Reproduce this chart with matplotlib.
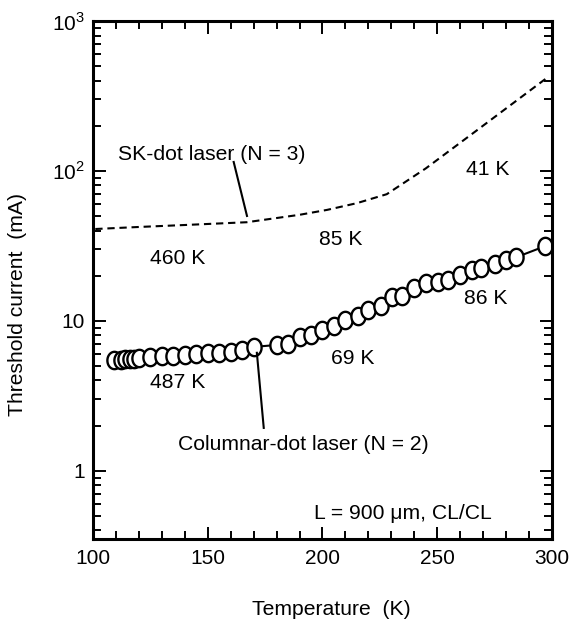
import numpy as np
import matplotlib
matplotlib.use("Agg")
import matplotlib.pyplot as plt
from matplotlib.path import Path
from matplotlib.ticker import FixedLocator, FixedFormatter, MultipleLocator, LogLocator, NullFormatter

plt.rcParams["font.family"] = ["Liberation Sans", "DejaVu Sans"]
plt.rcParams["mathtext.fontset"] = "custom"
plt.rcParams["mathtext.rm"] = "Liberation Sans"

# columnar-dot laser (N = 2), measured points
col_temp = [109, 112, 114, 116, 118, 120, 125, 130, 135, 140, 145, 150, 155, 160, 165, 170,
            180, 185, 190, 195, 200, 205, 210, 215.5, 220, 225.5, 230.5, 234.5, 240, 245,
            250.5, 254.5, 260, 265, 269, 275, 280, 284.5, 297]
col_ith = [5.50, 5.52, 5.54, 5.57, 5.6, 5.65, 5.72, 5.8, 5.87, 5.93, 6.0, 6.06, 6.12, 6.2, 6.38, 6.7,
           6.9, 7.05, 7.8, 8.1, 8.65, 9.2, 10.15, 10.8, 11.8, 12.6, 14.4, 14.7, 16.5, 17.8,
           18.3, 18.8, 20.3, 21.9, 22.5, 24.0, 25.5, 26.6, 31.5]

# SK-dot laser (N = 3), dashed curve
sk_temp = [101, 120, 140, 167, 190, 202, 215, 228, 245, 266.5, 297.5]
sk_ith = [41, 42.3, 43.6, 45.5, 51, 55, 61, 70, 104, 183, 415]

# T0 labels
t0_text = ["460 K", "85 K", "41 K", "487 K", "69 K", "86 K"]
t0_x = [137, 208, 272, 137, 213, 271]
t0_y = [26.2, 34.7, 101.6, 3.85, 5.64, 14.2]

ytick_vals = [1, 10, 100, 1000]
ytick_labels = ["1", "10", r"10$^{\mathregular{2}}$", r"10$^{\mathregular{3}}$"]

fig = plt.figure(figsize=(5.72, 6.21), dpi=100)
ax = fig.add_axes([0.1626, 0.132, 0.8024, 0.834])

# elliptical open marker
th = np.linspace(0, 2 * np.pi, 61)
ell = Path(np.column_stack([0.82 * np.cos(th), np.sin(th)]))

ax.plot(sk_temp, sk_ith, color="black", lw=1.5, linestyle=(0, (3.5, 2.3)))
ax.plot(col_temp, col_ith, color="black", lw=1.5, marker=ell, markersize=12.5,
        markerfacecolor="white", markeredgecolor="black", markeredgewidth=1.7)

ax.set_yscale("log")
ax.set_xlim(100, 300)
ax.set_ylim(0.35, 1000)

ax.xaxis.set_major_locator(MultipleLocator(50))
ax.xaxis.set_minor_locator(MultipleLocator(10))
ax.yaxis.set_major_locator(FixedLocator(ytick_vals))
ax.yaxis.set_major_formatter(FixedFormatter(ytick_labels))
ax.yaxis.set_minor_locator(LogLocator(base=10, subs=np.arange(2, 10)))
ax.yaxis.set_minor_formatter(NullFormatter())

for s in ax.spines.values():
    s.set_linewidth(2.2)
ax.tick_params(which="both", direction="in", top=True, right=True, width=1.4, labelsize=15)
ax.tick_params(which="major", length=9)
ax.tick_params(which="minor", length=5.5)
ax.tick_params(axis="x", pad=7)
ax.tick_params(axis="y", pad=6)

# leader lines
ax.plot([161.3, 167.1], [114.8, 50.1], color="black", lw=1.5)
ax.plot([171.4, 174.4], [6.12, 1.93], color="black", lw=1.5)

fs = 15.2
ax.text(110.8, 129.7, "SK-dot laser (N = 3)", fontsize=fs, va="center", ha="left")
ax.text(191.8, 1.49, "Columnar-dot laser (N = 2)", fontsize=fs, va="center", ha="center")
ax.text(273.6, 0.522, "L = 900 \u03bcm, CL/CL", fontsize=fs, va="center", ha="right")
for t, x, y in zip(t0_text, t0_x, t0_y):
    ax.text(x, y, t, fontsize=fs, va="center", ha="center")

fig.text(0.58, 0.018, "Temperature  (K)", fontsize=fs, ha="center", va="center")
fig.text(0.03, 0.51, "Threshold current  (mA)", fontsize=fs, ha="center", va="center",
         rotation=90)

fig.savefig("out.png", dpi=100)
